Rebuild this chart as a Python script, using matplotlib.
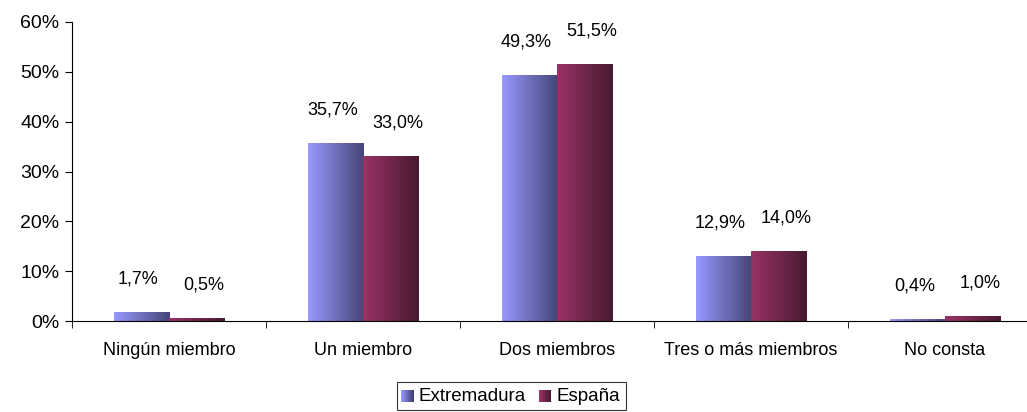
import numpy as np
import matplotlib
matplotlib.use("Agg")
import matplotlib.pyplot as plt
from matplotlib.colors import LinearSegmentedColormap
from matplotlib.legend_handler import HandlerBase
from matplotlib.patches import Rectangle, Patch

categories = ["Ningún miembro", "Un miembro", "Dos miembros", "Tres o más miembros", "No consta"]
extremadura = [1.7, 35.7, 49.3, 12.9, 0.4]
espana = [0.5, 33.0, 51.5, 14.0, 1.0]
series_names = ["Extremadura", "España"]

plt.rcParams["font.family"] = ["Liberation Sans", "DejaVu Sans"]

grads = [
    LinearSegmentedColormap.from_list("ext", ["#9999ff", "#454578"]),
    LinearSegmentedColormap.from_list("esp", ["#993366", "#471a30"]),
]


class GradHandler(HandlerBase):
    # legend key drawn as a little horizontal gradient square
    def __init__(self, cmap):
        super().__init__()
        self.cmap = cmap

    def create_artists(self, legend, orig, xd, yd, w, h, fontsize, trans):
        n = 12
        size = h
        x0 = xd + w - size
        arts = []
        for i in range(n):
            r = Rectangle((x0 + i * size / n, yd), size / n + 0.1, size,
                          facecolor=self.cmap(i / (n - 1)), edgecolor="none",
                          transform=trans)
            arts.append(r)
        return arts


fig = plt.figure(figsize=(10.27, 4.12), dpi=100)
ax = fig.add_axes([72 / 1027, 91 / 412, 970 / 1027, 299 / 412])

x = np.arange(len(categories))
w = 0.286
grad_img = np.linspace(0, 1, 256).reshape(1, -1)

for k, vals in enumerate([extremadura, espana]):
    offs = (k - 0.5) * w
    bars = ax.bar(x + offs, vals, width=w, color="none", edgecolor="none")
    for b, v in zip(bars, vals):
        bx = b.get_x()
        ax.imshow(grad_img, cmap=grads[k], aspect="auto",
                  extent=[bx, bx + w, 0, v], zorder=2, interpolation="bilinear")
        dx = -2 if k == 0 else 5
        ax.annotate(f"{v:.1f}%".replace(".", ","), (bx + w / 2, v),
                    xytext=(dx, 24), textcoords="offset points",
                    ha="center", va="center", fontsize=13)

ax.set_xlim(-0.5, len(categories) - 0.5)
ax.set_ylim(0, 60)
ax.set_yticks(range(0, 61, 10))
ax.set_yticklabels([f"{t}%" for t in range(0, 61, 10)], fontsize=14)
ax.set_xticks(x)
ax.set_xticklabels(categories, fontsize=13)
ax.tick_params(axis="x", length=0, pad=15)
ax.set_xticks(np.arange(-0.5, len(categories) - 0.5, 1), minor=True)
ax.tick_params(axis="x", which="minor", length=5, direction="out")
ax.tick_params(axis="y", length=5, direction="out", pad=4)
for s in ["top", "right"]:
    ax.spines[s].set_visible(False)
for s in ["left", "bottom"]:
    ax.spines[s].set_color("#000000")
    ax.spines[s].set_linewidth(0.8)

handles = [Patch(label=n) for n in series_names]
leg = fig.legend(handles=handles, loc="lower center", bbox_to_anchor=(511 / 1027, -0.01),
                 ncol=2, frameon=True, fancybox=False, edgecolor="black",
                 fontsize=13.5, handlelength=0.6, handleheight=0.6, handletextpad=0.3,
                 columnspacing=0.7, borderpad=0.3, borderaxespad=0.3,
                 handler_map={handles[0]: GradHandler(grads[0]),
                              handles[1]: GradHandler(grads[1])})
leg.get_frame().set_linewidth(0.8)

fig.savefig("out.png", dpi=100)
